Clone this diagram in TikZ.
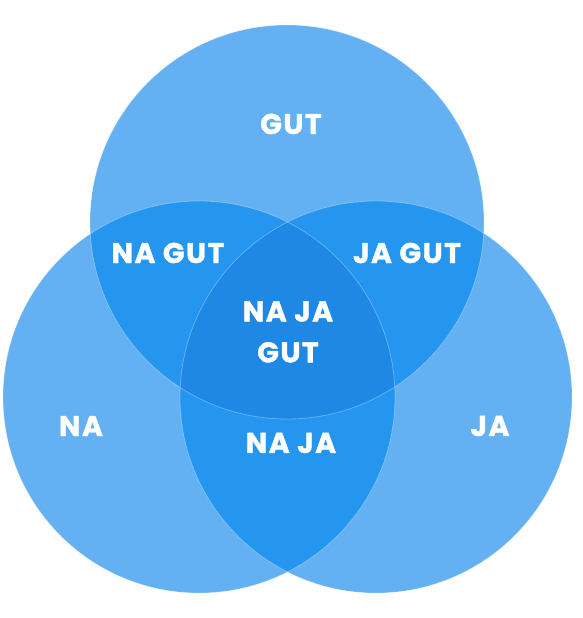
\documentclass[tikz,border=0pt]{standalone}
\usepackage{fontspec}
\setmainfont{Poppins}[BoldFeatures={LetterSpace=5, FakeBold=1.2}]
\definecolor{oneset}{RGB}{99,176,242}
\definecolor{twoset}{RGB}{36,150,240}
\definecolor{threeset}{RGB}{30,136,228}
\tikzset{
    lbl/.style={text=white, font=\bfseries\fontsize{28.5}{41}\selectfont, align=center},
    rim/.style={draw=white, draw opacity=0.3, line width=0.8pt}
}
\begin{document}
\begin{tikzpicture}[x=1pt, y=-1pt]
    \useasboundingbox (0, 0) rectangle (582, 618);
    \fill[white] (0, 0) rectangle (582, 618);

    % Kreise
    \def\topc{(287, 222) circle (197)}
    \def\leftc{(199, 397) circle (196)}
    \def\rightc{(376, 397) circle (196)}
    \fill[oneset] \topc;
    \fill[oneset] \leftc;
    \fill[oneset] \rightc;

    % Schnittmengen
    \begin{scope}
        \clip \topc;
        \fill[twoset] \leftc;
        \fill[twoset] \rightc;
    \end{scope}
    \begin{scope}
        \clip \leftc;
        \fill[twoset] \rightc;
    \end{scope}
    \begin{scope}
        \clip \topc;
        \clip \leftc;
        \fill[threeset] \rightc;
    \end{scope}
    \draw[rim] \topc;
    \draw[rim] \leftc;
    \draw[rim] \rightc;

    % Beschriftung
    \node[lbl] (gut) at (291, 124) {GUT};
    \node[lbl] (nagut) at (168, 253) {NA GUT};
    \node[lbl] (jagut) at (407, 253) {JA GUT};
    \node[lbl] (najagut) at (288, 332) {NA JA\\GUT};
    \node[lbl] (na) at (81, 426) {NA};
    \node[lbl] (naja) at (291, 443) {NA JA};
    \node[lbl] (ja) at (490, 426) {JA};
\end{tikzpicture}
\end{document}
